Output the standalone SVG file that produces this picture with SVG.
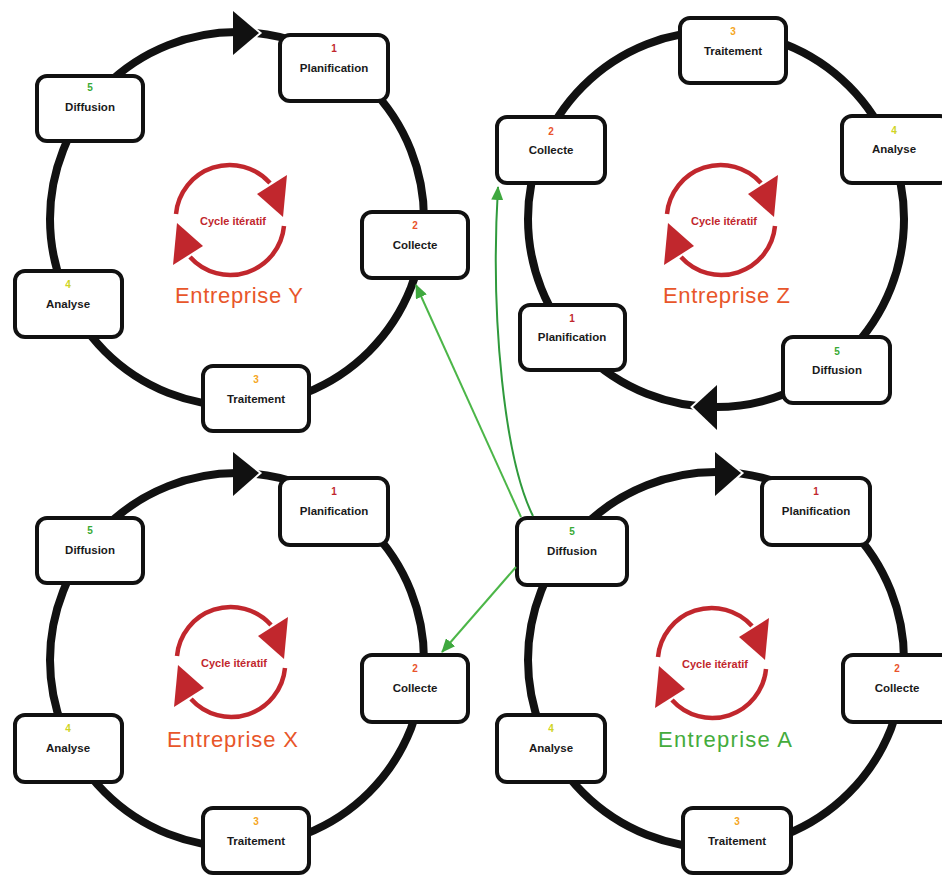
<svg xmlns="http://www.w3.org/2000/svg" xmlns:xlink="http://www.w3.org/1999/xlink" width="942" height="875" viewBox="0 0 942 875">
<style>
.ring{fill:none;stroke:#111;stroke-width:8}
.head{fill:#111}
.gap{fill:none;stroke:#fff;stroke-width:4;stroke-linejoin:miter}
.box{fill:#fff;stroke:#111;stroke-width:4}
.lbl{font-family:"Liberation Sans",Arial,sans-serif;font-weight:bold;font-size:11.5px;fill:#1a1a1a;text-anchor:middle}
.num{font-family:"Liberation Sans",Arial,sans-serif;font-weight:bold;font-size:10px;text-anchor:middle}
.c1{fill:#c1272d}.c2{fill:#e9532b}.c3{fill:#f5a623}.c4{fill:#cfd424}.c5{fill:#3aaa35}
.ent{font-family:"Liberation Sans",Arial,sans-serif;font-size:22px}
.entr{fill:#e8562a}.enta{fill:#44ac3c}
.cyc{fill:none;stroke:#c1272d;stroke-width:4.5}
.cych{fill:#c1272d}
.cyct{font-family:"Liberation Sans",Arial,sans-serif;font-weight:bold;font-size:11px;fill:#c1272d;text-anchor:middle}
.g1{fill:none;stroke:#4cb648;stroke-width:2}
.g2{fill:none;stroke:#2f9a3c;stroke-width:2}
</style>
<defs>
<marker id="ga" markerUnits="userSpaceOnUse" markerWidth="14" markerHeight="12" viewBox="0 0 14 12" refX="13" refY="6" orient="auto"><path d="M0,0 L14,6 L0,12 z" fill="#3fa83f"/></marker>
<g id="cycle">
<path class="cyc" d="M-54,-6 A54 54 0 0 1 40,-37"/>
<polygon class="cych" points="57,-45 27,-26 53,-3"/>
<path class="cyc" d="M54,6 A54 54 0 0 1 -40,37"/>
<polygon class="cych" points="-57,45 -27,26 -53,3"/>
<text class="cyct" x="3" y="5">Cycle itératif</text>
</g>
</defs>
<rect width="942" height="875" fill="#fff"/>

<!-- Entreprise Y -->
<g id="entreprise-y">
<circle class="ring" cx="237" cy="219" r="187"/>
<polyline class="gap" points="233,11 259,33 233,55"/>
<polygon class="head" points="233,11 259,33 233,55"/>
<use xlink:href="#cycle" x="230" y="220"/>
<text class="ent entr" x="175" y="303" textLength="128">Entreprise Y</text>
<g id="y-planification"><rect class="box" x="280" y="35" width="108" height="66" rx="10"/><text class="num c1" x="334" y="52">1</text><text class="lbl" x="334" y="72">Planification</text></g>
<g id="y-collecte"><rect class="box" x="362" y="212" width="106" height="66" rx="10"/><text class="num c2" x="415" y="229">2</text><text class="lbl" x="415" y="249">Collecte</text></g>
<g id="y-traitement"><rect class="box" x="203" y="366" width="106" height="65" rx="10"/><text class="num c3" x="256" y="383">3</text><text class="lbl" x="256" y="403">Traitement</text></g>
<g id="y-analyse"><rect class="box" x="15" y="271" width="107" height="66" rx="10"/><text class="num c4" x="68" y="288">4</text><text class="lbl" x="68" y="308">Analyse</text></g>
<g id="y-diffusion"><rect class="box" x="37" y="76" width="106" height="65" rx="10"/><text class="num c5" x="90" y="91">5</text><text class="lbl" x="90" y="111">Diffusion</text></g>
</g>

<!-- Entreprise Z -->
<g id="entreprise-z">
<circle class="ring" cx="716" cy="219" r="188"/>
<polyline class="gap" points="717,385 693,407 717,430"/>
<polygon class="head" points="717,385 693,407 717,430"/>
<use xlink:href="#cycle" x="721" y="220"/>
<text class="ent entr" x="663" y="303" textLength="127">Entreprise Z</text>
<g id="z-traitement"><rect class="box" x="680" y="18" width="106" height="65" rx="10"/><text class="num c3" x="733" y="35">3</text><text class="lbl" x="733" y="55">Traitement</text></g>
<g id="z-analyse"><rect class="box" x="842" y="116" width="108" height="67" rx="10"/><text class="num c4" x="894" y="134">4</text><text class="lbl" x="894" y="153">Analyse</text></g>
<g id="z-diffusion"><rect class="box" x="783" y="337" width="107" height="66" rx="10"/><text class="num c5" x="837" y="355">5</text><text class="lbl" x="837" y="374">Diffusion</text></g>
<g id="z-planification"><rect class="box" x="520" y="305" width="105" height="65" rx="10"/><text class="num c1" x="572" y="322">1</text><text class="lbl" x="572" y="341">Planification</text></g>
<g id="z-collecte"><rect class="box" x="497" y="117" width="108" height="66" rx="10"/><text class="num c2" x="551" y="135">2</text><text class="lbl" x="551" y="154">Collecte</text></g>
</g>

<!-- Entreprise X -->
<g id="entreprise-x">
<circle class="ring" cx="237" cy="660" r="187"/>
<polyline class="gap" points="233,452 259,473 233,496"/>
<polygon class="head" points="233,452 259,473 233,496"/>
<use xlink:href="#cycle" x="231" y="662"/>
<text class="ent entr" x="167" y="747" textLength="131">Entreprise X</text>
<g id="x-planification"><rect class="box" x="280" y="478" width="108" height="67" rx="10"/><text class="num c1" x="334" y="495">1</text><text class="lbl" x="334" y="515">Planification</text></g>
<g id="x-collecte"><rect class="box" x="362" y="655" width="106" height="67" rx="10"/><text class="num c2" x="415" y="672">2</text><text class="lbl" x="415" y="692">Collecte</text></g>
<g id="x-traitement"><rect class="box" x="203" y="808" width="106" height="65" rx="10"/><text class="num c3" x="256" y="825">3</text><text class="lbl" x="256" y="845">Traitement</text></g>
<g id="x-analyse"><rect class="box" x="15" y="715" width="107" height="67" rx="10"/><text class="num c4" x="68" y="732">4</text><text class="lbl" x="68" y="752">Analyse</text></g>
<g id="x-diffusion"><rect class="box" x="37" y="518" width="106" height="65" rx="10"/><text class="num c5" x="90" y="534">5</text><text class="lbl" x="90" y="554">Diffusion</text></g>
</g>

<!-- Entreprise A -->
<g id="entreprise-a">
<circle class="ring" cx="716" cy="660" r="188"/>
<polyline class="gap" points="715,452 741,473 715,496"/>
<polygon class="head" points="715,452 741,473 715,496"/>
<use xlink:href="#cycle" x="712" y="663"/>
<text class="ent enta" x="658" y="747" textLength="134">Entreprise A</text>
<g id="a-planification"><rect class="box" x="762" y="478" width="108" height="67" rx="10"/><text class="num c1" x="816" y="495">1</text><text class="lbl" x="816" y="515">Planification</text></g>
<g id="a-collecte"><rect class="box" x="843" y="655" width="108" height="67" rx="10"/><text class="num c2" x="897" y="672">2</text><text class="lbl" x="897" y="692">Collecte</text></g>
<g id="a-traitement"><rect class="box" x="683" y="808" width="108" height="65" rx="10"/><text class="num c3" x="737" y="825">3</text><text class="lbl" x="737" y="845">Traitement</text></g>
<g id="a-analyse"><rect class="box" x="497" y="715" width="108" height="67" rx="10"/><text class="num c4" x="551" y="732">4</text><text class="lbl" x="551" y="752">Analyse</text></g>
<g id="a-diffusion"><rect class="box" x="517" y="518" width="110" height="67" rx="10"/><text class="num c5" x="572" y="535">5</text><text class="lbl" x="572" y="555">Diffusion</text></g>
</g>

<!-- green connectors -->
<g id="connectors">
<path class="g1" d="M521,517 L416,285" marker-end="url(#ga)"/>
<path class="g2" d="M533,516 C505,460 490,320 498,187" marker-end="url(#ga)"/>
<path class="g1" d="M516,567 L442,652" marker-end="url(#ga)"/>
</g>
</svg>
